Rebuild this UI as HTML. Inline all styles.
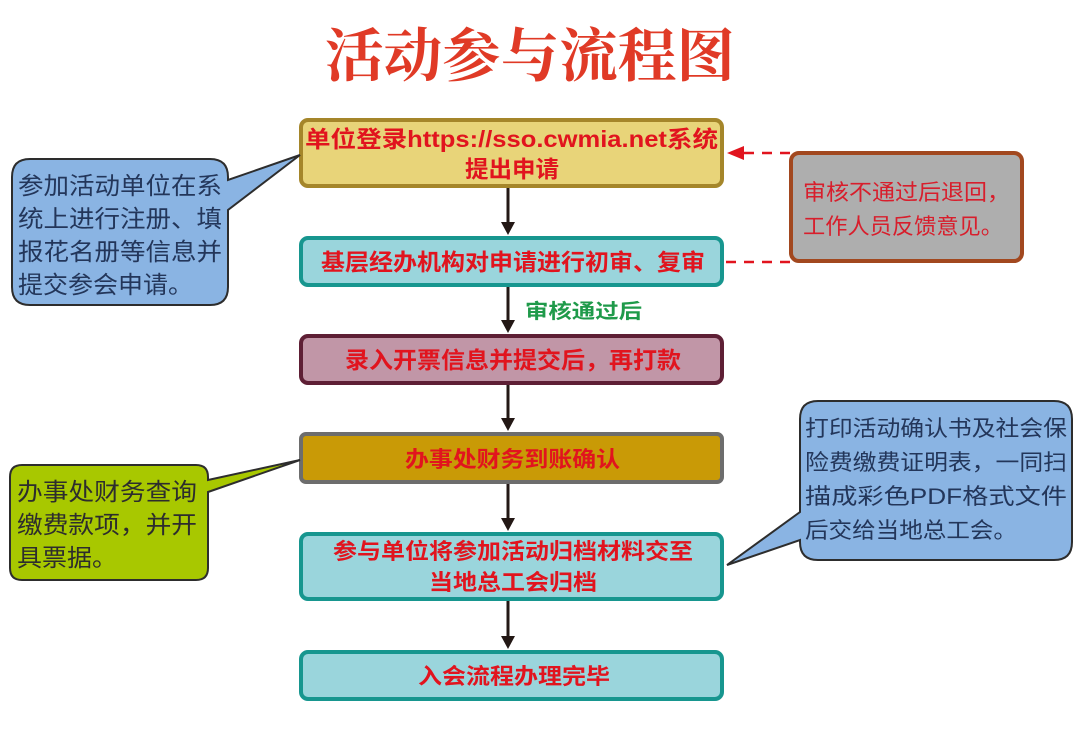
<!DOCTYPE html>
<html><head><meta charset="utf-8"><style>
body{margin:0;background:#fff}
svg{display:block}
text{font-family:"Liberation Sans","Noto Sans CJK SC",sans-serif}
</style></head><body>
<svg width="1079" height="731" viewBox="0 0 1079 731" xmlns="http://www.w3.org/2000/svg">
<text x="325" y="76" textLength="410" lengthAdjust="spacingAndGlyphs" font-size="58" font-weight="bold" fill="#e03a26" style="font-family:'Noto Serif CJK SC','Noto Sans CJK SC',serif">活动参与流程图</text>

<g stroke="#231815" stroke-width="3">
<line x1="508" y1="187" x2="508" y2="228"/>
<line x1="508" y1="285" x2="508" y2="326"/>
<line x1="508" y1="383" x2="508" y2="424"/>
<line x1="508" y1="483" x2="508" y2="524"/>
<line x1="508" y1="600" x2="508" y2="642"/>
</g>
<g fill="#231815">
<path d="M501,222 L515,222 L508,235 z"/>
<path d="M501,320 L515,320 L508,333 z"/>
<path d="M501,418 L515,418 L508,431 z"/>
<path d="M501,518 L515,518 L508,531 z"/>
<path d="M501,636 L515,636 L508,649 z"/>
</g>

<rect x="301" y="120" width="421" height="66" rx="7" fill="#e8d479" stroke="#a5862a" stroke-width="4"/>
<text x="305" y="147" textLength="413" lengthAdjust="spacingAndGlyphs" font-size="23" font-weight="bold" fill="#e1141e">单位登录https://sso.cwmia.net系统</text>
<text x="465" y="177" textLength="94" lengthAdjust="spacingAndGlyphs" font-size="23" font-weight="bold" fill="#e1141e">提出申请</text>

<rect x="301" y="238" width="421" height="47" rx="7" fill="#9ad5dc" stroke="#17968f" stroke-width="4"/>
<text x="321" y="270" textLength="384" lengthAdjust="spacingAndGlyphs" font-size="23" font-weight="bold" fill="#e1141e">基层经办机构对申请进行初审、复审</text>

<text x="525" y="318" textLength="117" lengthAdjust="spacingAndGlyphs" font-size="20" font-weight="bold" fill="#1f9a4a">审核通过后</text>

<rect x="301" y="336" width="421" height="47" rx="7" fill="#c196a7" stroke="#5e1f35" stroke-width="4"/>
<text x="345" y="368" textLength="336" lengthAdjust="spacingAndGlyphs" font-size="23" font-weight="bold" fill="#e1141e">录入开票信息并提交后，再打款</text>

<rect x="301" y="434" width="421" height="48" rx="5" fill="#c99a06" stroke="#6d6d6d" stroke-width="4"/>
<text x="405" y="467" textLength="215" lengthAdjust="spacingAndGlyphs" font-size="22" font-weight="bold" fill="#e1141e">办事处财务到账确认</text>

<rect x="301" y="534" width="421" height="65" rx="7" fill="#9ad5dc" stroke="#17968f" stroke-width="4"/>
<text x="333" y="559" textLength="360" lengthAdjust="spacingAndGlyphs" font-size="22" font-weight="bold" fill="#e1141e">参与单位将参加活动归档材料交至</text>
<text x="429" y="590" textLength="168" lengthAdjust="spacingAndGlyphs" font-size="22" font-weight="bold" fill="#e1141e">当地总工会归档</text>

<rect x="301" y="652" width="421" height="47" rx="7" fill="#9ad5dc" stroke="#17968f" stroke-width="4"/>
<text x="418" y="684" textLength="192" lengthAdjust="spacingAndGlyphs" font-size="22" font-weight="bold" fill="#e1141e">入会流程办理完毕</text>

<g stroke="#e1141e" stroke-width="2.5" stroke-dasharray="10,8" fill="none">
<line x1="790" y1="153" x2="742" y2="153"/>
<line x1="790" y1="262" x2="726" y2="262"/>
</g>
<path d="M727,153 L744,146 L744,160 z" fill="#e1141e"/>

<rect x="791" y="153" width="231" height="108" rx="8" fill="#aeaeae" stroke="#a2481f" stroke-width="4"/>
<text x="803" y="200" textLength="207" lengthAdjust="spacingAndGlyphs" font-size="22" fill="#d81e2c">审核不通过后退回，</text>
<text x="803" y="234" textLength="200" lengthAdjust="spacingAndGlyphs" font-size="22" fill="#d81e2c">工作人员反馈意见。</text>

<path d="M30,159 H210 Q228,159 228,177 V180 L300,155 L228,210 V287 Q228,305 210,305 H30 Q12,305 12,287 V177 Q12,159 30,159 z" fill="#8ab4e3" stroke="#2d2d2d" stroke-width="2"/>
<g font-size="24" fill="#23365a">
<text x="18" y="194" textLength="204" lengthAdjust="spacingAndGlyphs">参加活动单位在系</text>
<text x="18" y="227" textLength="204" lengthAdjust="spacingAndGlyphs">统上进行注册、填</text>
<text x="18" y="260" textLength="204" lengthAdjust="spacingAndGlyphs">报花名册等信息并</text>
<text x="18" y="293" textLength="175" lengthAdjust="spacingAndGlyphs">提交参会申请。</text>
</g>

<path d="M22,465 H196 Q208,465 208,477 V480 L300,460 L208,492 V568 Q208,580 196,580 H22 Q10,580 10,568 V477 Q10,465 22,465 z" fill="#a8c800" stroke="#2d2d2d" stroke-width="2"/>
<g font-size="24" fill="#2d2d2d">
<text x="17" y="500" textLength="180" lengthAdjust="spacingAndGlyphs">办事处财务查询</text>
<text x="17" y="533" textLength="180" lengthAdjust="spacingAndGlyphs">缴费款项，并开</text>
<text x="17" y="566" textLength="100" lengthAdjust="spacingAndGlyphs">具票据。</text>
</g>

<path d="M818,401 H1054 Q1072,401 1072,419 V542 Q1072,560 1054,560 H818 Q800,560 800,542 V540 L727,565 L800,512 V419 Q800,401 818,401 z" fill="#8ab4e3" stroke="#2d2d2d" stroke-width="2"/>
<g font-size="22" fill="#23365a">
<text x="805" y="436" textLength="262" lengthAdjust="spacingAndGlyphs">打印活动确认书及社会保</text>
<text x="805" y="470" textLength="262" lengthAdjust="spacingAndGlyphs">险费缴费证明表，一同扫</text>
<text x="805" y="504" textLength="262" lengthAdjust="spacingAndGlyphs">描成彩色PDF格式文件</text>
<text x="805" y="538" textLength="212" lengthAdjust="spacingAndGlyphs">后交给当地总工会。</text>
</g>
</svg>
</body></html>
